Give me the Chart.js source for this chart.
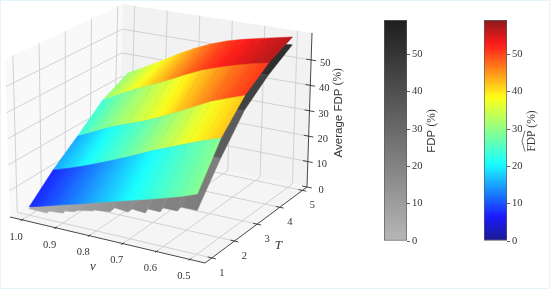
<!DOCTYPE html>
<html>
<head>
<meta charset="utf-8">
<title>Average FDP surface</title>
<script src="https://cdn.jsdelivr.net/npm/chart.js@4"></script>
<style>
html, body { margin: 0; padding: 0; background: #fff; }
#page { position: relative; width: 550px; height: 289px; overflow: hidden; }
#page canvas { position: absolute; top: 0; }
#frame { position: absolute; left: 0; top: 0; width: 548px; height: 287px; border: 1px solid #e6f4fb; }
</style>
</head>
<body>
<div id="page">
  <canvas id="surface" width="550" height="289" style="left:0"></canvas>
  <canvas id="greyBar" width="63" height="289" style="left:384px"></canvas>
  <canvas id="jetBar" width="63" height="289" style="left:484px"></canvas>
  <div id="frame"></div>
</div>
<script>
// axis ticks
var vTicks = [1.0, 0.9, 0.8, 0.7, 0.6, 0.5];
var tTicks = [1, 2, 3, 4, 5];
var zTicks = [0, 10, 20, 30, 40, 50];
var barTicks = [0, 10, 20, 30, 40, 50];

// estimated FDP hat surface, one row per T
var vGrid = [1.0, 0.95, 0.9, 0.85, 0.8, 0.75, 0.7, 0.65, 0.6, 0.55, 0.5];
var hatT1 = [3.2, 5.0, 6.9, 8.7, 10.6, 12.4, 14.2, 15.9, 17.7, 19.6, 21.8];
var hatT2 = [11.7, 13.8, 16.2, 18.8, 21.5, 24.3, 27.2, 29.7, 32.2, 34.6, 36.7];
var hatT3 = [19.3, 22.4, 25.5, 28.0, 30.4, 33.3, 36.3, 39.5, 42.7, 45.0, 47.2];
var hatT4 = [28.0, 31.6, 35.1, 38.0, 41.0, 44.2, 47.2, 49.4, 51.3, 53.0, 54.3];
var hatT5 = [33.6, 37.2, 40.9, 44.8, 48.3, 51.2, 53.5, 55.2, 56.6, 57.9, 59.2];

// estimated FDP surface (grey one), sampled where its front edge steps
var greyV = [1.0, 0.947, 0.944, 0.899, 0.893, 0.866, 0.852, 0.81, 0.807, 0.759, 0.744, 0.705, 0.693, 0.654, 0.646, 0.61, 0.601, 0.559, 0.547, 0.5];
var greyT1 = [2.5, 2.4, 3.3, 3.8, 4.8, 5.3, 6.2, 7.2, 7.6, 8.3, 10.2, 9.7, 11.2, 10.8, 12.5, 12.4, 14.1, 14.1, 15.9, 15.8];
var greyT2 = [6, 8, 8, 10.5, 11, 12.5, 13, 16, 16, 19, 20, 22.5, 23, 25, 25.5, 27, 27, 28, 28.5, 29.3];
var greyT3 = [14, 16, 16, 20, 20.5, 22, 23, 25, 25.2, 27, 28, 31, 31.5, 35, 35.5, 38, 38.5, 40, 40.5, 41.7];
var greyT4 = [22, 26, 26.2, 30, 30.5, 32, 33, 35.5, 35.8, 39, 40.5, 43, 43.5, 46, 46.3, 47.5, 47.7, 48.8, 49, 49.7];
var greyT5 = [28, 32, 32.2, 36, 36.5, 39, 40, 43, 43.2, 46.5, 48, 50, 50.5, 52.5, 53, 54, 54.2, 55.2, 55.5, 56.1];

var hatRows = [hatT1, hatT2, hatT3, hatT4, hatT5];
var greyRows = [greyT1, greyT2, greyT3, greyT4, greyT5];

// 3d box limits and where its corners land in the view
var vLim = [1.036, 0.455];
var tLim = [0.7, 5.2];
var zLim = [0, 60.6];
var barLim = [0, 59.2];
var floorView = [[10, 217], [205, 263], [307, 187], [119, 148]];
var roofView = [[5, 59], [207, 93], [312, 33], [123, 4]];

var serif = '"Liberation Serif", serif';
var sans = '"Liberation Sans", sans-serif';

function mix(a, b, t) { return a + (b - a) * t; }

function project(v, T, z) {
    var u = (vLim[0] - v) / (vLim[0] - vLim[1]);
    var w = (T - tLim[0]) / (tLim[1] - tLim[0]);
    var h = (z - zLim[0]) / (zLim[1] - zLim[0]);
    var out = [0, 1].map(function (k) {
        var low = mix(mix(floorView[0][k], floorView[1][k], u), mix(floorView[3][k], floorView[2][k], u), w);
        var high = mix(mix(roofView[0][k], roofView[1][k], u), mix(roofView[3][k], roofView[2][k], u), w);
        return mix(low, high, h);
    });
    return { x: out[0], y: out[1] };
}

// jet with the 0.9 alpha of the original, flattened on white
function jet(z) {
    var t = (z - barLim[0]) / (barLim[1] - barLim[0]);
    var nodes = [[0, 0, 0, 127], [0.11, 0, 0, 255], [0.35, 0, 255, 255], [0.65, 255, 255, 0], [0.89, 255, 0, 0], [1, 127, 0, 0]];
    var i = 0;
    while (i < nodes.length - 2 && t > nodes[i + 1][0]) i++;
    var a = nodes[i], b = nodes[i + 1];
    var f = Math.min(1, Math.max(0, (t - a[0]) / (b[0] - a[0])));
    var c = [1, 2, 3].map(function (k) { return Math.round(mix(a[k], b[k], f) * 0.9 + 25.5); });
    return 'rgb(' + c.join(',') + ')';
}

function grey(z) {
    var g = Math.round(mix(183, 30, (z - barLim[0]) / (barLim[1] - barLim[0])));
    return 'rgb(' + g + ',' + g + ',' + g + ')';
}

function shape(points, fillColor) {
    return { data: points.concat([points[0]]), showLine: true, fill: 'shape', backgroundColor: fillColor, borderColor: fillColor, borderWidth: 0, pointRadius: 0, clip: false };
}

function stroke(points, color, width) {
    return { data: points, showLine: true, fill: false, borderColor: color, borderWidth: width, pointRadius: 0, clip: false };
}

// gradient along a facet, its colour lines parallel to the facet's first side
function facetFill(context) {
    var ds = context.dataset, sx = context.chart.scales.x, sy = context.chart.scales.y;
    if (!ds || !ds.sideColors) return 'rgba(0,0,0,0)';
    var p = ds.data.map(function (d) { return [sx.getPixelForValue(d.x), sy.getPixelForValue(d.y)]; });
    var ax = (p[0][0] + p[3][0]) / 2, ay = (p[0][1] + p[3][1]) / 2;
    var bx = (p[1][0] + p[2][0]) / 2, by = (p[1][1] + p[2][1]) / 2;
    var nx = p[3][1] - p[0][1], ny = p[0][0] - p[3][0];
    var k = ((bx - ax) * nx + (by - ay) * ny) / (nx * nx + ny * ny);
    // scales have no size yet on the first pass
    if (!isFinite(ax + ay + k * nx + k * ny)) return ds.sideColors[0];
    var g = context.chart.ctx.createLinearGradient(ax, ay, ax + nx * k, ay + ny * k);
    g.addColorStop(0, ds.sideColors[0]);
    g.addColorStop(1, ds.sideColors[1]);
    return g;
}

function surfaceFacets(xs, rows, colorOf) {
    var out = [];
    for (var r = rows.length - 2; r >= 0; r--) {
        for (var i = 0; i < xs.length - 1; i++) {
            var T = tTicks[r], Tn = tTicks[r + 1];
            var pts = [project(xs[i], T, rows[r][i]), project(xs[i + 1], T, rows[r][i + 1]),
                project(xs[i + 1], Tn, rows[r + 1][i + 1]), project(xs[i], Tn, rows[r + 1][i])];
            var ds = shape(pts, facetFill);
            ds.borderColor = facetFill;
            ds.borderWidth = 0.5;
            ds.sideColors = [colorOf((rows[r][i] + rows[r + 1][i]) / 2), colorOf((rows[r][i + 1] + rows[r + 1][i + 1]) / 2)];
            out.push(ds);
        }
    }
    return out;
}

function boxDatasets() {
    var out = [];
    var gridColor = '#cdcdcd', lw = 0.9;
    var v0 = vLim[0], v1 = vLim[1], t0 = tLim[0], t1 = tLim[1], z0 = zLim[0], z1 = zLim[1];
    out.push(shape([project(v0, t0, z0), project(v1, t0, z0), project(v1, t1, z0), project(v0, t1, z0)], '#f5f5f5'));
    out.push(shape([project(v0, t0, z0), project(v0, t1, z0), project(v0, t1, z1), project(v0, t0, z1)], '#f9f9f9'));
    out.push(shape([project(v0, t1, z0), project(v1, t1, z0), project(v1, t1, z1), project(v0, t1, z1)], '#f2f2f2'));
    vTicks.forEach(function (v) {
        out.push(stroke([project(v, t0, z0), project(v, t1, z0), project(v, t1, z1)], gridColor, lw));
    });
    tTicks.forEach(function (T) {
        out.push(stroke([project(v1, T, z0), project(v0, T, z0), project(v0, T, z1)], gridColor, lw));
    });
    zTicks.slice(1).forEach(function (z) {
        out.push(stroke([project(v0, t0, z), project(v0, t1, z), project(v1, t1, z)], gridColor, lw));
    });
    return out;
}

function axisDatasets() {
    var out = [];
    var c = '#333333';
    var v0 = vLim[0], v1 = vLim[1], t0 = tLim[0], t1 = tLim[1], z0 = zLim[0], z1 = zLim[1];
    out.push(stroke([project(v0, t0, z0), project(v1, t0, z0), project(v1, t1, z0), project(v1, t1, z1)], c, 0.9));
    vTicks.forEach(function (v) {
        out.push(stroke([project(v, t0 - 0.06, z0), project(v, t0 + 0.06, z0)], c, 0.9));
    });
    tTicks.forEach(function (T) {
        out.push(stroke([project(v1 - 0.012, T, z0), project(v1 + 0.012, T, z0)], c, 0.9));
    });
    zTicks.forEach(function (z) {
        out.push(stroke([project(v1 + 0.015, t1, z), project(v1 - 0.015, t1, z)], c, 0.9));
    });
    return out;
}

// text of the 3d axes, anchored on the projected ticks
var axisText = {
    id: 'axisText',
    afterDraw: function (chart) {
        var ctx = chart.ctx, sx = chart.scales.x, sy = chart.scales.y;
        function put(p, dx, dy, text, font) {
            ctx.font = font;
            ctx.fillText(text, sx.getPixelForValue(p.x) + dx, sy.getPixelForValue(p.y) + dy);
        }
        ctx.save();
        ctx.fillStyle = '#333333';
        ctx.textAlign = 'center';
        ctx.textBaseline = 'middle';
        var tickFont = '10.5px ' + serif;
        vTicks.forEach(function (v) { put(project(v, tLim[0], 0), -6, 17, v.toFixed(1), tickFont); });
        tTicks.forEach(function (T) { put(project(vLim[1], T, 0), 10, 15, String(T), tickFont); });
        zTicks.forEach(function (z) { put(project(vLim[1], tLim[1], z), 14, 3, String(z), tickFont); });
        put(project(0.75, tLim[0], 0), -13, 27, 'v', 'italic 13px ' + serif);
        put(project(vLim[1], 3.5, 0), 10, 30, 'T', 'italic 13px ' + serif);
        var base = project(vLim[1], tLim[1], 30);
        drawUpright(ctx, sx.getPixelForValue(base.x) + 29, sy.getPixelForValue(base.y) + 2, [['Average FDP ', '11.5px ' + sans], ['(%)', '11.5px ' + serif]]);
        ctx.restore();
    }
};

// rotated label made of runs in different fonts
function drawUpright(ctx, x, y, runs, hat) {
    ctx.save();
    ctx.translate(x, y);
    ctx.rotate(-Math.PI / 2);
    ctx.textAlign = 'left';
    ctx.textBaseline = 'middle';
    ctx.fillStyle = '#333333';
    var total = 0;
    runs.forEach(function (r) { ctx.font = r[1]; total += ctx.measureText(r[0]).width; });
    var at = -total / 2;
    runs.forEach(function (r, i) {
        ctx.font = r[1];
        var w = ctx.measureText(r[0]).width;
        ctx.fillText(r[0], at, 0);
        if (hat && i === 0) {
            ctx.strokeStyle = '#333333';
            ctx.lineWidth = 0.7;
            ctx.beginPath();
            ctx.moveTo(at, -7);
            ctx.lineTo(at + (w - 3) / 2, -10);
            ctx.lineTo(at + w - 3, -7);
            ctx.stroke();
        }
        at += w;
    });
    ctx.restore();
}

function colorBar(id, colorOf, runs, hat) {
    return new Chart(document.getElementById(id), {
        type: 'bar',
        data: {
            labels: ['bar'],
            datasets: [{
                data: [barLim],
                barPercentage: 1,
                categoryPercentage: 1,
                borderColor: '#5a5a5a',
                borderWidth: 1,
                borderSkipped: false,
                backgroundColor: function (context) {
                    var y = context.chart.scales.y;
                    var y0 = y.getPixelForValue(barLim[0]), y1 = y.getPixelForValue(barLim[1]);
                    if (!isFinite(y0 + y1)) return colorOf(0);
                    var g = context.chart.ctx.createLinearGradient(0, y0, 0, y1);
                    for (var z = 0; z <= 59; z++) g.addColorStop(z / barLim[1], colorOf(z));
                    g.addColorStop(1, colorOf(barLim[1]));
                    return g;
                }
            }]
        },
        options: {
            responsive: false,
            animation: false,
            layout: { padding: { top: 20, bottom: 48 } },
            plugins: { legend: { display: false }, tooltip: { enabled: false } },
            scales: {
                x: { display: false },
                y: {
                    position: 'right',
                    min: barLim[0],
                    max: barLim[1],
                    afterFit: function (scale) { scale.width = 40; },
                    afterBuildTicks: function (scale) { scale.ticks = barTicks.map(function (v) { return { value: v }; }); },
                    border: { display: false },
                    grid: { drawOnChartArea: false, tickLength: 3, tickColor: '#333333', tickWidth: 0.8 },
                    ticks: { color: '#333333', padding: 2, font: { family: serif, size: 10.5 } }
                }
            }
        },
        plugins: [{
            id: 'barTitle',
            afterDraw: function (chart) {
                drawUpright(chart.ctx, chart.chartArea.right + 25, 131, runs, hat);
            }
        }]
    });
}

document.addEventListener('DOMContentLoaded', function () {
    var datasets = boxDatasets()
        .concat(surfaceFacets(greyV, greyRows, grey))
        .concat(surfaceFacets(vGrid, hatRows, jet))
        .concat(axisDatasets());
    // Chart.js paints the first dataset last
    datasets.reverse();

    new Chart(document.getElementById('surface'), {
        type: 'scatter',
        data: { datasets: datasets },
        options: {
            responsive: false,
            animation: false,
            layout: { padding: 0 },
            plugins: { legend: { display: false }, tooltip: { enabled: false } },
            scales: {
                x: { display: false, min: 0, max: 550 },
                y: { display: false, min: 0, max: 289, reverse: true }
            }
        },
        plugins: [axisText]
    });

    colorBar('greyBar', grey, [['FDP ', '11.5px ' + sans], ['(%)', '11.5px ' + serif]], false);
    colorBar('jetBar', jet, [['FDP ', '11.5px ' + serif], ['(%)', '11.5px ' + serif]], true);
});
</script>
</body>
</html>
